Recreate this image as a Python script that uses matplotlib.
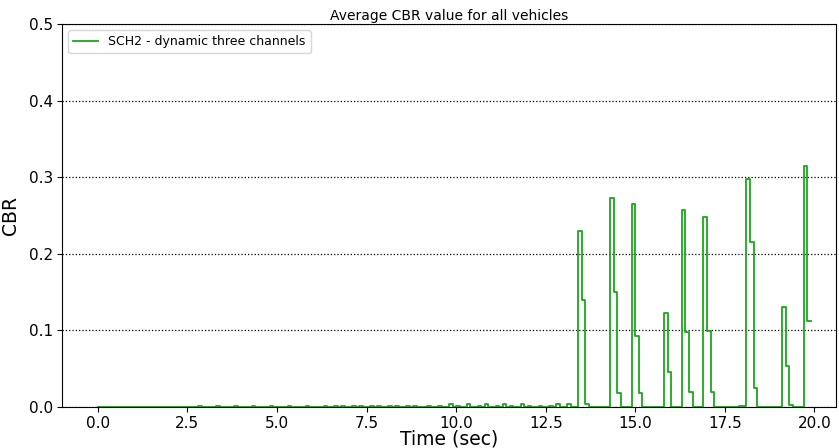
import numpy as np
import matplotlib.pyplot as plt

# sample times (sec), one CBR sample every 0.1 s
time = np.round(np.arange(0, 200) * 0.1, 1)

# non-zero CBR samples (time, value)
event_times = [2.8, 3.3, 3.8, 4.3, 4.8,
               5.3, 5.8, 6.3, 6.6, 6.8, 7.1, 7.3, 7.6, 7.8, 8.1, 8.3,
               8.6, 8.8, 9.2, 9.5, 9.8, 10.0, 10.3, 10.6, 10.8, 11.1, 11.3,
               11.5, 11.8, 12.0, 12.3, 12.6, 12.8, 13.1,
               13.4, 13.5, 13.6,
               14.3, 14.4, 14.5,
               14.9, 15.0, 15.1,
               15.8, 15.9,
               16.3, 16.4, 16.5,
               16.9, 17.0, 17.1,
               17.9, 18.0,
               18.1, 18.2, 18.3,
               19.1, 19.2, 19.3,
               19.7, 19.8, 19.9]
event_values = [0.001, 0.001, 0.001, 0.001, 0.001,
                0.001, 0.001, 0.001, 0.001, 0.001, 0.001, 0.001, 0.001, 0.001, 0.001, 0.001,
                0.001, 0.001, 0.001, 0.001, 0.003, 0.001, 0.003, 0.001, 0.003, 0.001, 0.003,
                0.001, 0.003, 0.001, 0.001, 0.001, 0.003, 0.003,
                0.229, 0.140, 0.003,
                0.273, 0.150, 0.018,
                0.265, 0.092, 0.018,
                0.123, 0.045,
                0.257, 0.097, 0.019,
                0.248, 0.099, 0.019,
                0.001, 0.001,
                0.297, 0.215, 0.025,
                0.130, 0.053, 0.002,
                0.314, 0.112, 0.112]

cbr = np.zeros(len(time))
for t, v in zip(event_times, event_values):
    cbr[int(round(t * 10))] = v

fig = plt.figure(figsize=(8.39, 4.48), dpi=100)
ax = fig.add_axes([0.0739, 0.0922, 0.9225, 0.854])

ax.step(time, cbr, where='post', color='#1aa81a', linewidth=1.3,
        label='SCH2 - dynamic three channels')

ax.set_xlim(-1.0, 20.6)
ax.set_ylim(0, 0.5)
ax.set_xticks(np.arange(0, 20.1, 2.5))
ax.set_yticks(np.arange(0, 0.51, 0.1))
ax.tick_params(labelsize=11, pad=3)
ax.yaxis.grid(True, linestyle=':', color='black', linewidth=0.9)

ax.set_title('Average CBR value for all vehicles', fontsize=10, pad=3)
ax.set_xlabel('Time (sec)', fontsize=13.5, labelpad=-1)
ax.set_ylabel('CBR', fontsize=13.5, labelpad=6)
ax.legend(loc='upper left', fontsize=9)

fig.savefig('out.png', dpi=100)
